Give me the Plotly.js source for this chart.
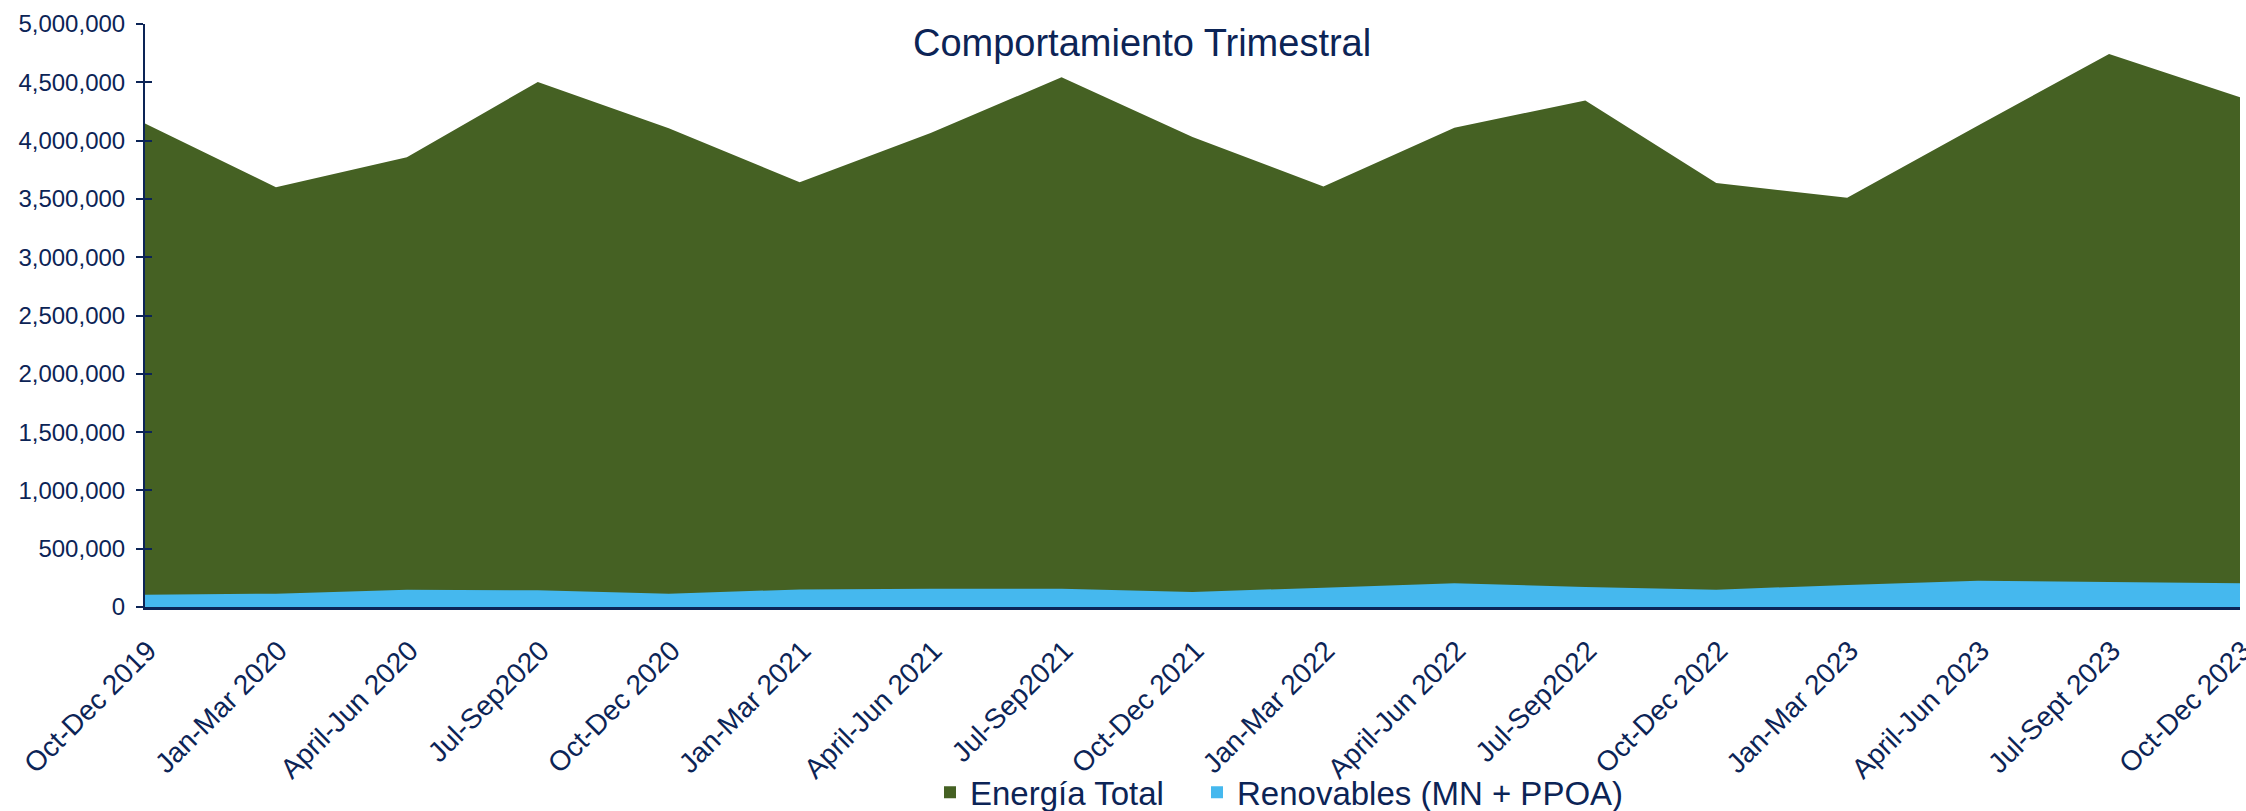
<!DOCTYPE html>
<html>
<head>
<meta charset="utf-8">
<script src="https://cdn.plot.ly/plotly-3.0.1.min.js"></script>
<style>
  html, body { margin: 0; padding: 0; background: #ffffff; }
  #chart { width: 2246px; height: 811px; }
</style>
</head>
<body>
<div id="chart"></div>
<script>
const categories = [
  "Oct-Dec 2019", "Jan-Mar 2020", "April-Jun 2020", "Jul-Sep2020",
  "Oct-Dec 2020", "Jan-Mar 2021", "April-Jun 2021", "Jul-Sep2021",
  "Oct-Dec 2021", "Jan-Mar 2022", "April-Jun 2022", "Jul-Sep2022",
  "Oct-Dec 2022", "Jan-Mar 2023", "April-Jun 2023", "Jul-Sept 2023",
  "Oct-Dec 2023"
];
const energiaTotal = [
  4146000, 3600000, 3857000, 4503000,
  4106000, 3643000, 4066000, 4543000,
  4031000, 3606000, 4111000, 4343000,
  3637000, 3509000, 4129000, 4743000,
  4371000
];
const renovables = [
  106000, 114000, 149000, 143000,
  114000, 151000, 157000, 157000,
  129000, 166000, 203000, 172000,
  149000, 189000, 226000, 214000,
  203000
];
const seriesNames = ["Energía Total", "Renovables (MN + PPOA)"];
const titleText = "Comportamiento Trimestral";

const GREEN = "#456123";
const BLUE = "#45B8EE";
const NAVY = "#0C2456";
const FONT = "Arial, 'Liberation Sans', sans-serif";

const traces = [
  {
    x: categories, y: energiaTotal, type: "scatter", mode: "none",
    fill: "tozeroy", fillcolor: GREEN, name: seriesNames[0], showlegend: false,
    hoverinfo: "x+y"
  },
  {
    x: categories, y: renovables, type: "scatter", mode: "none",
    fill: "tozeroy", fillcolor: BLUE, name: seriesNames[1], showlegend: false,
    hoverinfo: "x+y"
  },
  // legend entries
  {
    x: [null], y: [null], type: "scatter", mode: "markers", name: seriesNames[0],
    marker: { symbol: "square", size: 15, color: GREEN }, legend: "legend"
  },
  {
    x: [null], y: [null], type: "scatter", mode: "markers", name: seriesNames[1],
    marker: { symbol: "square", size: 15, color: BLUE }, legend: "legend2"
  },
  {
    x: [categories[0]], y: [0], yaxis: "y2", type: "scatter", mode: "none",
    showlegend: false, hoverinfo: "skip"
  }
];

const legendCommon = {
  orientation: "h",
  xanchor: "left",
  y: -0.318, yanchor: "middle",
  font: { family: FONT, size: 33, color: NAVY },
  itemsizing: "constant",
  itemwidth: 30,
  bgcolor: "rgba(0,0,0,0)"
};

const layout = {
  width: 2246, height: 811,
  paper_bgcolor: "#ffffff", plot_bgcolor: "#ffffff",
  margin: { l: 145, r: 6, t: 24, b: 204, autoexpand: false },
  font: { family: FONT, color: NAVY },
  title: {
    text: titleText,
    font: { family: FONT, size: 38, color: NAVY },
    x: 0.5085, xanchor: "center", xref: "container",
    y: 0.947, yanchor: "middle", yref: "container"
  },
  showlegend: true,
  legend: Object.assign({}, legendCommon, { x: (930 - 145) / 2095 }),
  legend2: Object.assign({}, legendCommon, { x: (1197 - 145) / 2095 }),
  xaxis: {
    type: "category",
    range: [0, categories.length - 1],
    showline: true, linecolor: NAVY, linewidth: 3,
    ticks: "", showgrid: false, zeroline: false,
    tickangle: -45,
    ticklabelstandoff: 13,
    ticklabelshift: 3,
    tickfont: { family: FONT, size: 28, color: NAVY },
    automargin: false
  },
  yaxis: {
    range: [0, 5000000],
    dtick: 500000, tick0: 0,
    tickformat: ",d",
    showline: true, linecolor: NAVY, linewidth: 2,
    ticks: "outside", ticklen: 7, tickwidth: 2, tickcolor: NAVY,
    ticklabelstandoff: 6,
    showgrid: false, zeroline: false,
    tickfont: { family: FONT, size: 24, color: NAVY },
    automargin: false
  },
  yaxis2: {
    overlaying: "y", matches: "y", side: "left",
    range: [0, 5000000], dtick: 500000, tick0: 0,
    ticks: "inside", ticklen: 7, tickwidth: 2, tickcolor: NAVY,
    showticklabels: false, showline: false, showgrid: false, zeroline: false
  }
};

Plotly.newPlot("chart", traces, layout, { displayModeBar: false, staticPlot: true });
</script>
</body>
</html>
